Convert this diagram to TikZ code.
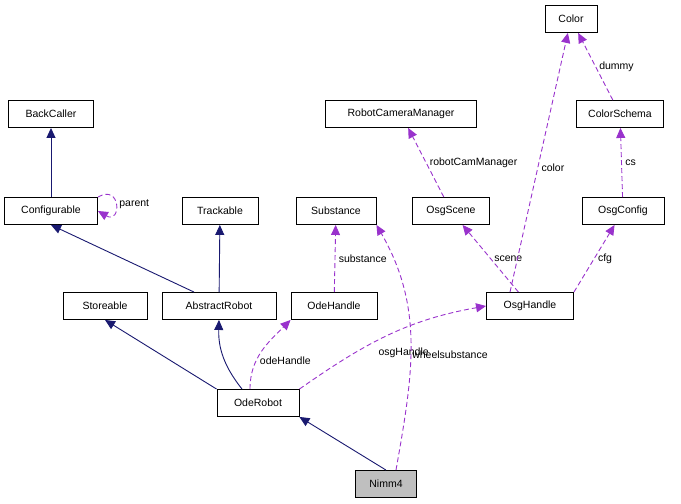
\documentclass[tikz,border=0pt]{standalone}
\usepackage{fontspec}
\setmainfont{Liberation Sans}
\usetikzlibrary{arrows.meta, positioning}
\definecolor{inh}{RGB}{25,25,112}
\definecolor{use}{RGB}{153,50,204}
\tikzset{%
	cls/.style={draw, rectangle, line width=0.9pt, minimum height=27pt, inner sep=4pt, font=\fontsize{10.5}{12}\selectfont, fill=white},
	me/.style={cls, fill=black!25},
	inherit/.style={draw=inh, line width=0.9pt, -{Triangle[length=10pt, width=9pt]}},
	usage/.style={draw=use, line width=0.9pt, dash pattern=on 5pt off 3pt, -{Triangle[length=10pt, width=9pt]}},
	lbl/.style={font=\fontsize{10.5}{12}\selectfont, text=black}
}
\begin{document}
\begin{tikzpicture}[x=1pt, y=-1pt]
	\useasboundingbox (0,0) rectangle (681,504);
	%classes
	\node[cls, minimum width=52pt] (color) at (571,19) {Color};
	\node[cls, minimum width=87pt] (schema) at (620,114) {ColorSchema};
	\node[cls, minimum width=85pt] (back) at (51,114) {BackCaller};
	\node[cls, minimum width=151pt] (cam) at (401,114) {RobotCameraManager};
	\node[cls, minimum width=93pt] (conf) at (51,211) {Configurable};
	\node[cls, minimum width=76pt] (track) at (220,211) {Trackable};
	\node[cls, minimum width=80pt] (subst) at (336,211) {Substance};
	\node[cls, minimum width=77pt] (scene) at (451,211) {OsgScene};
	\node[cls, minimum width=82pt] (osgconf) at (623,211) {OsgConfig};
	\node[cls, minimum width=84pt] (store) at (105,306) {Storeable};
	\node[cls, minimum width=114pt] (abs) at (219,306) {AbstractRobot};
	\node[cls, minimum width=86pt] (odeh) at (334,306) {OdeHandle};
	\node[cls, minimum width=87pt] (osgh) at (530,306) {OsgHandle};
	\node[cls, minimum width=82pt] (ode) at (258,403) {OdeRobot};
	\node[me, minimum width=61pt] (nimm) at (386,484) {Nimm4};

	%inheritance
	\draw[inherit] (conf) -- (back);
	\path (abs.north) ++(-25,0) coordinate (a1);
	\draw[inherit] (a1) -- (conf.south);
	\draw[inherit] (abs) -- (track);
	\draw[inherit] (ode.north west) -- (store.south);
	\path (ode.north) ++(-16,0) coordinate (o1);
	\draw[inherit] (o1) to[bend left=20] (abs.south);
	\draw[inherit] (nimm.north) -- (ode.south east);

	%usage
	\draw[usage] (conf.north east) to[out=30, in=-30, looseness=5] node[lbl, right]{parent} (conf.east);
	\draw[usage] (odeh) -- node[lbl, right]{substance} (subst);
	\draw[usage] (scene) -- node[lbl, right]{robotCamManager} (cam);
	\draw[usage] (osgh) -- node[lbl, right]{scene} (scene);
	\path (osgh.north) ++(-20,0) coordinate (h1);
	\draw[usage] (h1) -- node[lbl, right, pos=0.48]{color} (color);
	\draw[usage] (schema) -- node[lbl, right]{dummy} (color);
	\draw[usage] (osgconf) -- node[lbl, right]{cs} (schema);
	\draw[usage] (osgh.north east) -- node[lbl, right]{cfg} (osgconf);
	\path (ode.north) ++(-8,0) coordinate (o2);
	\draw[usage] (o2) to[out=90, in=-135] node[lbl, right, pos=0.35]{odeHandle} (odeh.south west);
	\draw[usage] (ode.north east) to[out=35, in=190] node[lbl, pos=0.4, below right=0pt and 4pt]{osgHandle} (osgh.west);
	\path (nimm.north) ++(10,0) coordinate (n1);
	\draw[usage] (n1) to[out=80, in=-60] node[lbl, pos=0.45, right=-2pt]{wheelsubstance} (subst.south east);
\end{tikzpicture}
\end{document}
